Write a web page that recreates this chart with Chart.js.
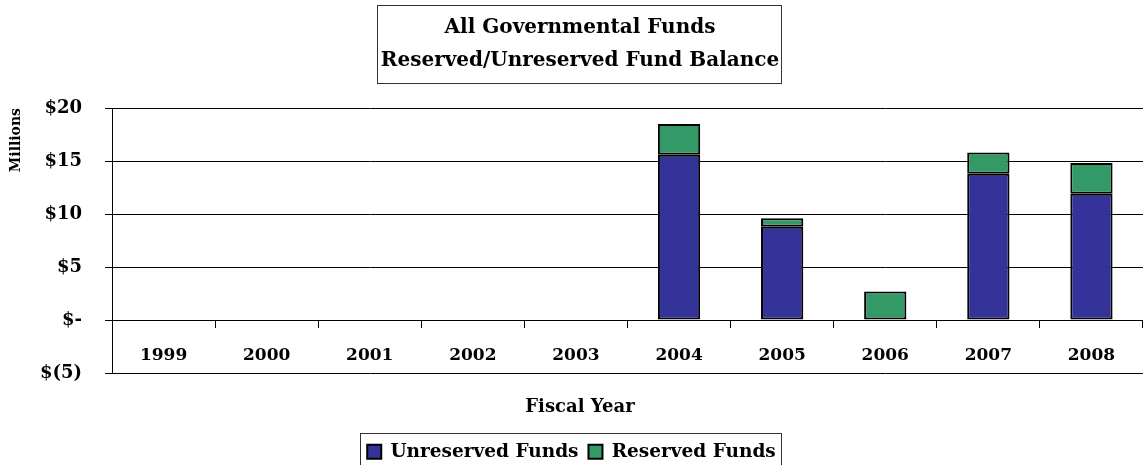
<!DOCTYPE html>
<html>
<head>
<meta charset="utf-8">
<script src="https://cdn.jsdelivr.net/npm/chart.js@4/dist/chart.umd.min.js"></script>
<style>
  html, body { margin: 0; padding: 0; background: #ffffff; }
  canvas { display: block; }
</style>
</head>
<body>
<canvas id="c" width="1143" height="465"></canvas>
<script>
const categories = ['1999', '2000', '2001', '2002', '2003', '2004', '2005', '2006', '2007', '2008'];
const unreservedFunds = [null, null, null, null, null, 15.6, 8.8, 0, 13.8, 11.9];
const reservedFunds = [null, null, null, null, null, 2.9, 0.8, 2.7, 2.0, 2.9];
const yTickValues = [-5, 0, 5, 10, 15, 20];
const yTickLabels = ['$(5)', '$-', '$5', '$10', '$15', '$20'];
const titleLines = ['All Governmental Funds', 'Reserved/Unreserved Fund Balance'];
const seriesNames = ['Unreserved Funds', 'Reserved Funds'];
const xAxisTitle = 'Fiscal Year';
const yAxisTitle = 'Millions';

const FONT = "'DejaVu Serif', 'Liberation Serif', serif";

const textPlugin = {
  id: 'framedTexts',
  afterDraw(chart) {
    const ctx = chart.ctx;
    ctx.save();
    const cx = 580;
    ctx.font = 'bold 20px ' + FONT;
    ctx.fillStyle = '#000';
    ctx.textAlign = 'center';
    ctx.textBaseline = 'middle';
    let w = 0;
    titleLines.forEach((t, i) => {
      w = Math.max(w, ctx.measureText(t).width);
      ctx.fillText(t, cx, 28 + i * 33);
    });
    ctx.strokeStyle = '#333';
    ctx.lineWidth = 1;
    ctx.strokeRect(Math.round(cx - w / 2 - 4) + 0.5, 5.5, Math.round(w + 6), 78);
    ctx.font = 'bold 18px ' + FONT;
    ctx.fillText(xAxisTitle, cx, 407);
    const hb = chart.legend.legendHitBoxes;
    if (hb && hb.length) {
      let minX = Infinity, maxX = -Infinity, minY = Infinity;
      hb.forEach(h => {
        minX = Math.min(minX, h.left);
        maxX = Math.max(maxX, h.left + h.width);
        minY = Math.min(minY, h.top);
      });
      ctx.strokeRect(Math.round(minX - 7) + 0.5, Math.round(minY - 10) + 0.5, Math.round(maxX - minX + 12), 60);
    }
    ctx.restore();
  }
};

new Chart(document.getElementById('c'), {
  type: 'bar',
  data: {
    labels: categories,
    datasets: [
      {
        label: seriesNames[0],
        data: unreservedFunds,
        backgroundColor: '#333399',
        borderColor: '#000000',
        borderWidth: 2,
        borderSkipped: false,
        barPercentage: 0.41,
        categoryPercentage: 1.0
      },
      {
        label: seriesNames[1],
        data: reservedFunds,
        backgroundColor: '#339966',
        borderColor: '#000000',
        borderWidth: 2,
        borderSkipped: false,
        barPercentage: 0.41,
        categoryPercentage: 1.0
      }
    ]
  },
  options: {
    responsive: false,
    animation: false,
    devicePixelRatio: 1,
    layout: { padding: { left: 0, right: 0, top: 108, bottom: 0 } },
    plugins: {
      tooltip: { enabled: false },
      title: { display: false },
      legend: {
        display: true,
        position: 'bottom',
        maxHeight: 92,
        title: {
          display: true,
          text: '',
          font: { family: FONT, size: 18, weight: 'bold' },
          padding: { top: 23, bottom: 15 }
        },
        labels: {
          color: '#000',
          font: { family: FONT, size: 18.5, weight: 'bold' },
          boxWidth: 14,
          boxHeight: 14,
          padding: 10
        }
      }
    },
    scales: {
      x: {
        stacked: true,
        position: { y: 0 },
        grid: {
          display: true,
          drawOnChartArea: false,
          drawTicks: true,
          tickLength: 7,
          tickColor: '#000',
          color: '#000',
          offset: true
        },
        border: { display: true, color: '#000', width: 1 },
        ticks: {
          color: '#000',
          font: { family: FONT, size: 17, weight: 'bold' },
          padding: 18,
          maxRotation: 0,
          autoSkip: false
        }
      },
      y: {
        stacked: true,
        min: -5,
        max: 20,
        afterFit(scale) { scale.width = 112; },
        afterBuildTicks(scale) { scale.ticks = yTickValues.map(v => ({ value: v })); },
        grid: {
          color: '#000',
          lineWidth: 1,
          tickLength: 7,
          tickColor: '#000'
        },
        border: { display: true, color: '#000', width: 1 },
        ticks: {
          color: '#000',
          font: { family: FONT, size: 18, weight: 'bold' },
          padding: 23,
          callback: (v) => {
            const i = yTickValues.indexOf(v);
            return i >= 0 ? yTickLabels[i] : '';
          }
        },
        title: {
          display: true,
          text: yAxisTitle,
          align: 'end',
          color: '#000',
          font: { family: FONT, size: 14, weight: 'bold' },
          padding: { top: 8, bottom: 0 }
        }
      }
    }
  },
  plugins: [textPlugin]
});
</script>
</body>
</html>
